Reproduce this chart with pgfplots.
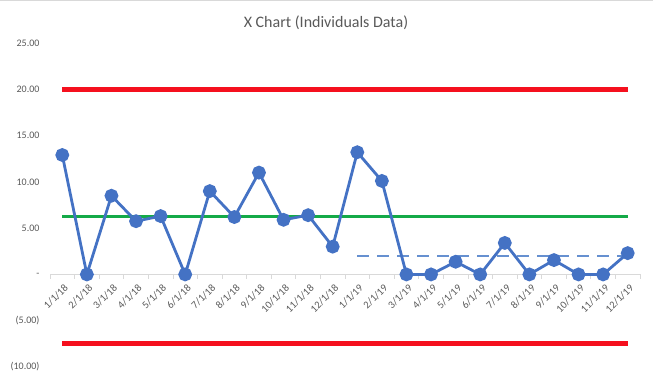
\documentclass[border=0pt]{standalone}
\usepackage{fontspec}
\setmainfont{Carlito}
\usepackage{pgfplots}
\pgfplotsset{compat=1.18}
\definecolor{txt}{HTML}{595959}
\definecolor{xblue}{HTML}{4472C4}
\definecolor{dblue}{HTML}{6690D0}
\definecolor{cgreen}{HTML}{14AA48}
\definecolor{cred}{HTML}{F5101E}
\definecolor{axgray}{HTML}{D9D9D9}
\begin{document}
\begin{tikzpicture}[x=1pt,y=1pt]
\path[use as bounding box] (0,0) rectangle (653,380);
\draw[axgray, line width=1pt] (0,379.5) -- (653,379.5);
\node[txt, font=\fontsize{16}{18}\selectfont, anchor=base] at (326,352) {X Chart (Individuals Data)};
\begin{axis}[
  at={(50pt,13pt)}, anchor=south west,
  scale only axis, width=590pt, height=324pt,
  xmin=-0.5, xmax=23.5, ymin=-10, ymax=25,
  axis line style={draw=none},
  axis x line=none,
  xtick=\empty,
  ytick={-10,-5,0,5,10,15,20,25},
  yticklabels={(10.00),(5.00),{-\hspace{6pt}},5.00,10.00,15.00,20.00,25.00},
  yticklabel style={txt, font=\fontsize{10}{12}\selectfont, anchor=east, xshift=-7pt},
  major tick length=0pt,
  clip=false,
]
% category axis at y=0
\addplot[axgray, line width=1pt, forget plot] coordinates {(-0.5,0) (23.5,0)};
\pgfplotsinvokeforeach{-0.5,0.5,...,23.5}{
  \addplot[axgray, line width=0.8pt, forget plot] coordinates {(#1,0) (#1,-0.5)};
}
\foreach \i/\lab in {0/{1/1/18},1/{2/1/18},2/{3/1/18},3/{4/1/18},4/{5/1/18},5/{6/1/18},6/{7/1/18},7/{8/1/18},8/{9/1/18},9/{10/1/18},10/{11/1/18},11/{12/1/18},12/{1/1/19},13/{2/1/19},14/{3/1/19},15/{4/1/19},16/{5/1/19},17/{6/1/19},18/{7/1/19},19/{8/1/19},20/{9/1/19},21/{10/1/19},22/{11/1/19},23/{12/1/19}}{
  \edef\tmp{\noexpand\node[txt, font=\noexpand\fontsize{10.5}{12}\noexpand\selectfont, rotate=45, anchor=north east, inner sep=1pt] at (axis cs:\i+0.05,-0.8) {\lab};}
  \tmp
}
% control limits
\addplot[cred, line width=4.5pt] coordinates {(0,19.95) (23,19.95)};
\addplot[cred, line width=4.5pt] coordinates {(0,-7.47) (23,-7.47)};
\addplot[cgreen, line width=3pt] coordinates {(0,6.26) (23,6.26)};
\addplot[dblue, line width=2.5pt, dash pattern=on 12pt off 8pt] coordinates {(12,2.0) (23,2.0)};
% data
\addplot[xblue, line width=2.8pt, mark=*, mark size=5.5pt, mark options={solid, fill=xblue, draw=none}] coordinates {
(0,12.9) (1,0) (2,8.5) (3,5.75) (4,6.3) (5,0) (6,9.0) (7,6.2) (8,11.0) (9,5.9) (10,6.4) (11,3.0)
(12,13.2) (13,10.1) (14,0) (15,0) (16,1.37) (17,0) (18,3.4) (19,0) (20,1.55) (21,0) (22,0) (23,2.3)
};
\end{axis}
\end{tikzpicture}
\end{document}
